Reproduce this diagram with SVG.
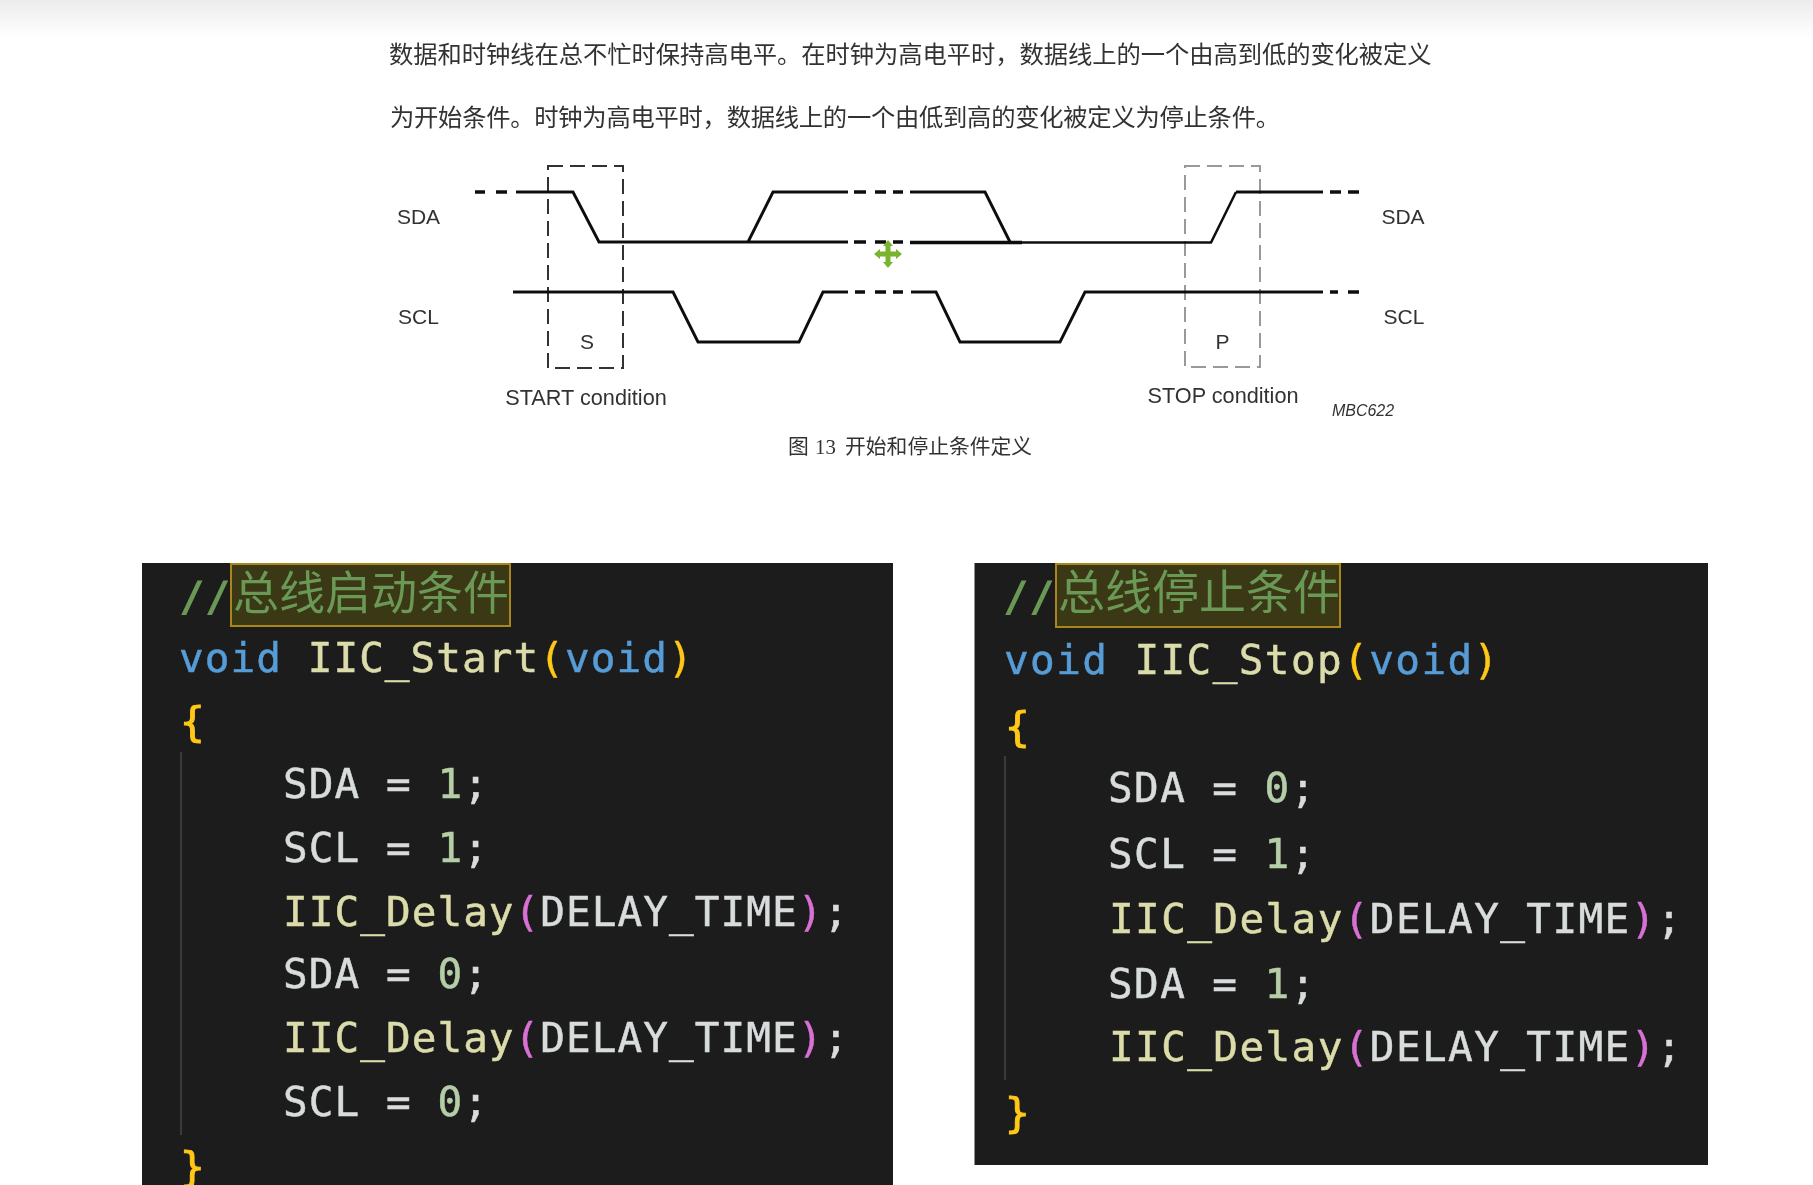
<svg xmlns="http://www.w3.org/2000/svg" width="1813" height="1185" viewBox="0 0 1813 1185">
<style>
.doc{font-family:"Noto Sans CJK SC","Liberation Serif",sans-serif;fill:#333;font-size:24.3px}
.cap{font-family:"Liberation Serif","Noto Sans CJK SC",serif;fill:#333;font-size:20.8px}
.capz{font-family:"Noto Sans CJK SC","Liberation Serif",sans-serif;fill:#333;font-size:20.8px}
.lab{font-family:"Liberation Sans",Arial,sans-serif;fill:#333;text-anchor:middle;font-size:21px}
.wide{font-size:21.7px}
.wave{fill:none;stroke:#111;stroke-width:2.9}
.dash{fill:none;stroke:#111;stroke-width:3.6}
.thin{fill:none;stroke:#111;stroke-width:2.5}
.box{fill:none;stroke:#333;stroke-width:2;stroke-dasharray:15 7}
.boxg{fill:none;stroke:#999;stroke-width:2;stroke-dasharray:15 7}
.code{font-family:"DejaVu Sans Mono","Liberation Mono",monospace;font-size:41px;fill:#d8dcdc;white-space:pre}
.cjk{font-family:"Noto Sans CJK SC",sans-serif;fill:#6a9955}
.l{letter-spacing:1.05px}
.r{letter-spacing:1.4px}
.b{stroke:#d8dcdc;stroke-width:.5}
.c{fill:#6a9955;stroke:#6a9955}.k{fill:#569cd6;stroke:#569cd6}.f{fill:#dcdcaa;stroke:#dcdcaa}.y{fill:#ffc814;stroke:#ffc814}.p{fill:#da70d6;stroke:#da70d6}.n{fill:#b5cea8;stroke:#b5cea8}
.panel{fill:#1e1e1e}
.hl{fill:#3a3716;stroke:#a8861c;stroke-width:2}
.guide{stroke:#444;stroke-width:1.5}
</style>
<defs>
<linearGradient id="top" x1="0" y1="0" x2="0" y2="1"><stop offset="0" stop-color="#ececec"/><stop offset="1" stop-color="#fff"/></linearGradient>
<filter id="soft" x="-2%" y="-2%" width="104%" height="104%"><feGaussianBlur stdDeviation="0.55"/></filter>
</defs>
<rect width="1813" height="1185" fill="#fff"/>
<rect width="1813" height="38" fill="url(#top)"/>
<g filter="url(#soft)">
<g id="paragraph">
<text class="doc" x="389" y="63" letter-spacing="-0.05">数据和时钟线在总不忙时保持高电平。在时钟为高电平时，数据线上的一个由高到低的变化被定义</text>
<text class="doc" x="390" y="126" letter-spacing="-0.25">为开始条件。时钟为高电平时，数据线上的一个由低到高的变化被定义为停止条件。</text>
</g>
<g id="timing">
<rect class="box" x="548" y="166" width="75" height="202"/>
<rect class="boxg" x="1185" y="166" width="75" height="201"/>
<g id="sda-wave">
<path class="dash" d="M475 192H485M496 192H507M854 192H866M875 192H886M893 192H903M854 242H866M875 242H886M893 242H903M1330 192H1341M1348 192H1359"/>
<path class="wave" d="M516 192H573L599 242H848M748 242L773 192H848M910 192H985L1010 242"/>
<path class="dash" d="M910 242.500H1022"/>
<path class="thin" d="M1022 242.500H1211L1236 192"/>
<path class="wave" d="M1236 192H1323"/>
</g>
<g id="scl-wave">
<path class="wave" d="M513 292H673L698 342H799L823 292H848M911 292H936L960 342H1060L1085 292H1323"/>
<path class="dash" d="M855 292H865M875 292H886M893 292H903M1330 292H1338M1348 292H1359"/>
</g>
<path id="cursor" d="M888 240L893 246H890.500V251.500H896V249L902 254L896 259V256.500H890.500V262H893L888 268L883 262H885.500V256.500H880V259L874 254L880 249V251.500H885.500V246H883Z" fill="#7ab32e"/>
<text class="lab" x="418.500" y="223.500">SDA</text>
<text class="lab" x="1403" y="223.500">SDA</text>
<text class="lab" x="418.500" y="324">SCL</text>
<text class="lab" x="1404" y="324">SCL</text>
<text class="lab" x="587" y="349">S</text>
<text class="lab" x="1222.500" y="349">P</text>
<text class="lab wide" x="586" y="405">START condition</text>
<text class="lab wide" x="1223" y="402.500">STOP condition</text>
<text class="lab" x="1363" y="415.500" style="font-size:16px;font-style:italic">MBC622</text>
<text class="capz" x="788" y="454">图</text>
<text class="cap" x="815" y="454">13</text>
<text class="capz" x="845" y="454">开始和停止条件定义</text>
</g>
<g id="code-start">
<rect class="panel" x="142" y="563" width="751" height="622"/>
<rect class="hl" x="231" y="564" width="279" height="62"/>
<line class="guide" x1="181" y1="752" x2="181" y2="1135"/>
<text class="code l" x="180" y="611"><tspan class="c">//</tspan></text>
<text class="cjk" x="233" y="609" font-size="46">总线启动条件</text>
<text class="code l b" x="179" y="672"><tspan class="k">void</tspan> <tspan class="f">IIC_Start</tspan><tspan class="y">(</tspan><tspan class="k">void</tspan><tspan class="y">)</tspan></text>
<text class="code y" x="180" y="736">{</text>
<text class="code l b" x="283" y="798">SDA = <tspan class="n">1</tspan>;</text>
<text class="code l b" x="283" y="862">SCL = <tspan class="n">1</tspan>;</text>
<text class="code l b" x="283" y="926"><tspan class="f">IIC_Delay</tspan><tspan class="p">(</tspan>DELAY_TIME<tspan class="p">)</tspan>;</text>
<text class="code l b" x="283" y="988">SDA = <tspan class="n">0</tspan>;</text>
<text class="code l b" x="283" y="1052"><tspan class="f">IIC_Delay</tspan><tspan class="p">(</tspan>DELAY_TIME<tspan class="p">)</tspan>;</text>
<text class="code l b" x="283" y="1116">SCL = <tspan class="n">0</tspan>;</text>
<text class="code y" x="180" y="1181">}</text>
</g>
<g id="code-stop">
<rect class="panel" x="974.500" y="563" width="733.500" height="602"/>
<rect class="hl" x="1056" y="564" width="284" height="63"/>
<line class="guide" x1="1005" y1="756" x2="1005" y2="1080"/>
<text class="code r" x="1004" y="611"><tspan class="c">//</tspan></text>
<text class="cjk" x="1058" y="609" font-size="47">总线停止条件</text>
<text class="code r b" x="1004" y="674"><tspan class="k">void</tspan> <tspan class="f">IIC_Stop</tspan><tspan class="y">(</tspan><tspan class="k">void</tspan><tspan class="y">)</tspan></text>
<text class="code y" x="1005" y="741">{</text>
<text class="code r b" x="1108" y="802">SDA = <tspan class="n">0</tspan>;</text>
<text class="code r b" x="1108" y="868">SCL = <tspan class="n">1</tspan>;</text>
<text class="code r b" x="1109" y="933"><tspan class="f">IIC_Delay</tspan><tspan class="p">(</tspan>DELAY_TIME<tspan class="p">)</tspan>;</text>
<text class="code r b" x="1108" y="998">SDA = <tspan class="n">1</tspan>;</text>
<text class="code r b" x="1109" y="1061"><tspan class="f">IIC_Delay</tspan><tspan class="p">(</tspan>DELAY_TIME<tspan class="p">)</tspan>;</text>
<text class="code y" x="1005" y="1127">}</text>
</g>
</g>
</svg>
